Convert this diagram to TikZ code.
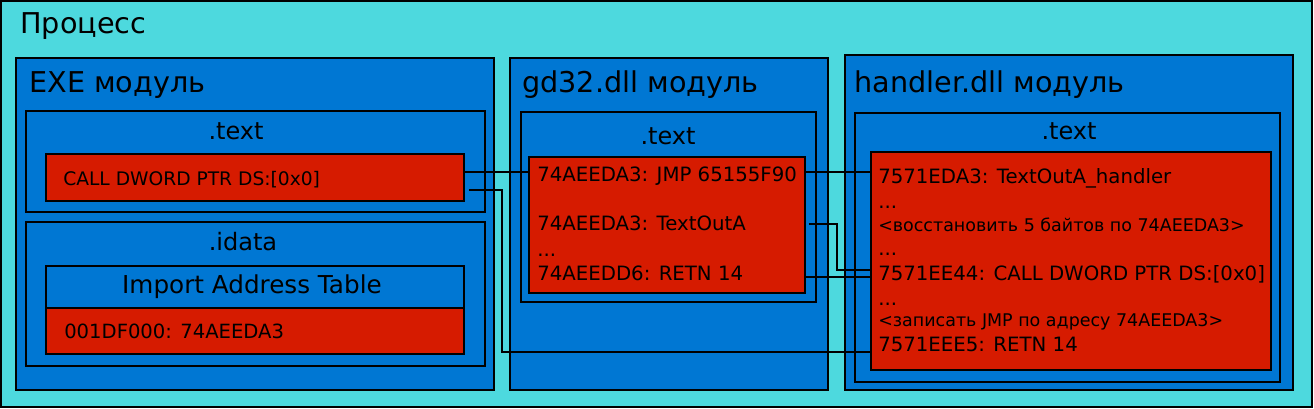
\documentclass[tikz,border=0pt]{standalone}
\usepackage{fontspec}
\setmainfont{DejaVu Sans}
\usetikzlibrary{fit}
\definecolor{procc}{RGB}{77,217,222}
\definecolor{modc}{RGB}{0,119,211}
\definecolor{codec}{RGB}{214,27,0}
\begin{document}
\begin{tikzpicture}[x=0.75pt,y=-0.75pt,
  box/.style={draw=black,line width=1.4pt,inner sep=0pt},
  procbox/.style={box,fill=procc},
  modbox/.style={box,fill=modc},
  codebox/.style={box,fill=codec},
  ttl/.style={font=\fontsize{21.5}{25}\selectfont,anchor=base west,inner sep=0pt},
  sect/.style={font=\fontsize{18}{22}\selectfont,anchor=base,inner sep=0pt},
  code/.style={font=\fontsize{14.8}{18}\selectfont,anchor=base west,inner sep=0pt},
  smallcode/.style={font=\fontsize{13.1}{15}\selectfont,anchor=base west,inner sep=0pt},
  conn/.style={draw=black,line width=1.2pt}]
\useasboundingbox (0,0) rectangle (1314,409);
% process
\node[procbox,fit={(1,1) (1312,407)}] (proc) {};
\node[ttl] (proct) at (20,34) {Процесс};
% EXE module
\node[modbox,fit={(16,58) (494,390)}] (exe) {};
\node[ttl] (exet) at (29,93) {EXE модуль};
\node[modbox,fit={(26,111) (485,212)}] (exetext) {};
\node[sect] (exetextt) at (236,140) {.text};
\node[codebox,fit={(46,154) (464,201)}] (call) {};
\node[code,font=\fontsize{14}{17}\selectfont] (callt) at (63,186) {CALL DWORD PTR DS:[0x0]};
\node[modbox,fit={(26,222) (485,366)}] (idata) {};
\node[sect] (idatat) at (243,251) {.idata};
\node[modbox,fit={(46,266) (464,308)}] (iathead) {};
\node[sect,font=\fontsize{18.5}{22}\selectfont] (iatt) at (252,294) {Import Address Table};
\node[codebox,fit={(46,308) (464,354)}] (iatrow) {};
\node[code,font=\fontsize{14.7}{17}\selectfont] (iatrowt) at (64,339) {001DF000: 74AEEDA3};
% gd32 module
\node[modbox,fit={(510,58) (828,390)}] (gd) {};
\node[ttl] (gdt) at (522,93) {gd32.dll модуль};
\node[modbox,fit={(521,112) (816,302)}] (gdtext) {};
\node[sect] (gdtextt) at (668,145) {.text};
\node[codebox,fit={(529,157) (805,293)}] (gdcode) {};
\node[code] (g1) at (537,182) {74AEEDA3: JMP 65155F90};
\node[code] (g2) at (537,231) {74AEEDA3: TextOutA};
\node[code] (g3) at (537,257) {...};
\node[code] (g4) at (537,281) {74AEEDD6: RETN 14};
% handler module
\node[modbox,fit={(845,55) (1293,390)}] (hd) {};
\node[ttl] (hdt) at (854,93) {handler.dll модуль};
\node[modbox,fit={(855,113) (1280,382)}] (hdtext) {};
\node[sect] (hdtextt) at (1069,140) {.text};
\node[codebox,fit={(871,152) (1271,370)}] (hcode) {};
\node[code] (h1) at (878,184) {7571EDA3: TextOutA\_handler};
\node[code] (h2) at (878,209) {...};
\node[smallcode] (h3) at (878,232) {<восстановить 5 байтов по 74AEEDA3>};
\node[code] (h4) at (878,256) {...};
\node[code] (h5) at (878,281) {7571EE44: CALL DWORD PTR DS:[0x0]};
\node[code] (h6) at (878,306) {...};
\node[smallcode] (h7) at (878,327) {<записать JMP по адресу 74AEEDA3>};
\node[code] (h8) at (878,352) {7571EEE5: RETN 14};
% connectors
\draw[conn] (call.east |- 0,172) -- (gdcode.west |- 0,172);
\draw[conn] (call.east |- 0,190) ++(4,0) -- (502,190) -- (502,352) -- (hcode.west |- 0,352);
\draw[conn] (gdcode.east |- 0,172) -- (hcode.west |- 0,172);
\draw[conn] (gdcode.east |- 0,224) ++(3,0) -- (837,224) -- (837,270) -- (hcode.west |- 0,270);
\draw[conn] (gdcode.east |- 0,277) -- (hcode.west |- 0,277);
\end{tikzpicture}
\end{document}
